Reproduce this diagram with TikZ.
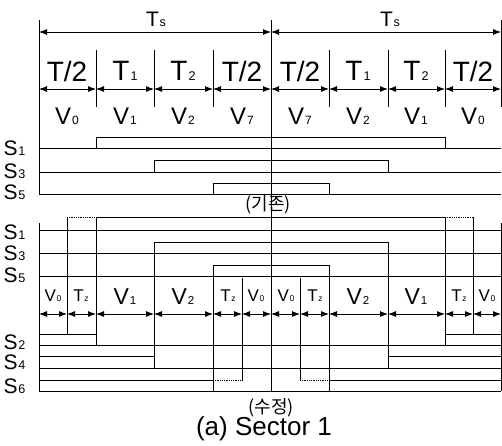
\documentclass[tikz,border=0pt]{standalone}
\usepackage{fontspec}
\usepackage{graphicx}
\setmainfont{Liberation Sans}
\newfontfamily\krfont{Noto Sans CJK KR}
\usetikzlibrary{arrows.meta}
\newcommand\lsub[2][0.5]{\kern0.04em\scalebox{#1}{#2}}
\begin{document}
\begin{tikzpicture}[x=1pt,y=-1pt,line width=1pt,
  dim/.style={{Latex[length=8pt,width=6pt]}-{Latex[length=8pt,width=6pt]},line width=0.9pt},
  dt/.style={densely dotted,line width=0.8pt},
  tbig/.style={inner sep=0pt,font=\fontsize{28}{28}\selectfont},
  vbig/.style={inner sep=0pt,font=\fontsize{24}{24}\selectfont},
  vmid/.style={inner sep=0pt,font=\fontsize{23}{23}\selectfont},
  vsml/.style={inner sep=0pt,font=\fontsize{17}{17}\selectfont},
  tslbl/.style={inner sep=0pt,font=\fontsize{21}{21}\selectfont},
  slbl/.style={inner sep=0pt,anchor=west,font=\fontsize{21}{21}\selectfont},
  krlbl/.style={inner sep=0pt,font=\krfont\fontsize{18}{18}\selectfont},
  captlbl/.style={inner sep=0pt,font=\fontsize{26}{26}\selectfont}]
\useasboundingbox (0,0) rectangle (502,445);

% ---------- top section frame ----------
\coordinate (L0) at (39,20);
\coordinate (L1) at (39,194);
\coordinate (C0) at (271,20);
\coordinate (C1) at (271,391);
\coordinate (R0) at (501,20);
\coordinate (R1) at (501,107);
\draw (L0) -- (L1);
\draw (C0) -- (C1);
\draw (R0) -- (R1);
\foreach \x in {96,154,213,329,388,445} \draw (\x,50) -- (\x,107);

% Ts arrows
\draw[dim] (39,32) -- (271,32);
\draw[dim] (271,32) -- (501,32);
\node[tslbl] (ts1) at (156,19) {T\lsub[0.6]{s}};
\node[tslbl] (ts2) at (390,19) {T\lsub[0.6]{s}};

% interval arrows
\foreach \a/\b in {39/96,96/154,154/213,213/271,271/329,329/388,388/445,445/501}
  \draw[dim] (\a,89) -- (\b,89);

\node[tbig] (t1) at (67,71) {T/2};
\node[tbig] (t2) at (125,71) {T\lsub[0.45]{1}};
\node[tbig] (t3) at (183,71) {T\lsub[0.45]{2}};
\node[tbig] (t4) at (242,71) {T/2};
\node[tbig] (t5) at (300,71) {T/2};
\node[tbig] (t6) at (358,71) {T\lsub[0.45]{1}};
\node[tbig] (t7) at (416,71) {T\lsub[0.45]{2}};
\node[tbig] (t8) at (473,71) {T/2};

\node[vbig] (v1) at (67,116) {V\lsub{0}};
\node[vbig] (v2) at (125,116) {V\lsub{1}};
\node[vbig] (v3) at (183,116) {V\lsub{2}};
\node[vbig] (v4) at (242,116) {V\lsub{7}};
\node[vbig] (v5) at (300,116) {V\lsub{7}};
\node[vbig] (v6) at (358,116) {V\lsub{2}};
\node[vbig] (v7) at (416,116) {V\lsub{1}};
\node[vbig] (v8) at (473,116) {V\lsub{0}};

% top waveforms
\node[slbl] (sa1) at (3,148) {S\lsub[0.6]{1}};
\node[slbl] (sa3) at (3,171) {S\lsub[0.6]{3}};
\node[slbl] (sa5) at (3,192) {S\lsub[0.6]{5}};
\draw (39,148) -- (501,148);
\draw (96,148) -- (96,137) -- (445,137) -- (445,148);
\draw (39,172) -- (501,172);
\draw (154,172) -- (154,160) -- (388,160) -- (388,172);
\draw (39,194) -- (501,194);
\draw (213,194) -- (213,183) -- (329,183) -- (329,194);

\node[krlbl] (k1) at (268,205) {(기존)};

% ---------- bottom section ----------
\draw (39,223) -- (39,391);
\draw (501,223) -- (501,391);
\foreach \y in {230,253,276,345,368,391} \draw (39,\y) -- (501,\y);

% S1 high and dead-time bands
\draw[dt] (67,217) -- (96,217);
\draw (96,217) -- (445,217);
\draw[dt] (445,217) -- (473,217);
\draw (67,217) -- (67,334);
\draw (96,217) -- (96,345);
\draw (473,217) -- (473,334);
\draw (445,217) -- (445,345);
% S3 / S4
\draw (154,368) -- (154,242) -- (388,242) -- (388,368);
% S5 / S6
\draw (213,391) -- (213,265) -- (329,265) -- (329,391);
\draw (242,278) -- (242,380);
\draw (300,278) -- (300,380);
% S2
\draw (39,334) -- (96,334);
\draw (445,334) -- (501,334);
% S4
\draw (39,356) -- (154,356);
\draw (388,356) -- (501,356);
% S6
\draw (39,380) -- (213,380);
\draw[dt] (213,380) -- (242,380);
\draw[dt] (300,380) -- (329,380);
\draw (329,380) -- (501,380);

\foreach \a/\b in {39/67,67/96,96/154,154/213,213/242,242/271,271/300,300/329,329/388,388/445,445/473,473/501}
  \draw[dim] (\a,314) -- (\b,314);

\node[vsml] (b1) at (53,296) {V\lsub{0}};
\node[vsml] (b2) at (81,296) {T\lsub{z}};
\node[vmid] (b3) at (125,297) {V\lsub{1}};
\node[vmid] (b4) at (183,297) {V\lsub{2}};
\node[vsml] (b5) at (228,296) {T\lsub{z}};
\node[vsml] (b6) at (256,296) {V\lsub{0}};
\node[vsml] (b7) at (286,296) {V\lsub{0}};
\node[vsml] (b8) at (315,296) {T\lsub{z}};
\node[vmid] (b9) at (358,297) {V\lsub{2}};
\node[vmid] (b10) at (416,297) {V\lsub{1}};
\node[vsml] (b11) at (459,296) {T\lsub{z}};
\node[vsml] (b12) at (487,296) {V\lsub{0}};

\node[slbl] (sb1) at (3,232) {S\lsub[0.6]{1}};
\node[slbl] (sb3) at (3,253) {S\lsub[0.6]{3}};
\node[slbl] (sb5) at (3,275) {S\lsub[0.6]{5}};
\node[slbl] (sb2) at (3,342) {S\lsub[0.6]{2}};
\node[slbl] (sb4) at (3,362) {S\lsub[0.6]{4}};
\node[slbl] (sb6) at (3,386) {S\lsub[0.6]{6}};

\node[krlbl] (k2) at (271,408) {(수정)};
\node[captlbl] (capt) at (264,429) {(a) Sector 1};
\end{tikzpicture}
\end{document}
